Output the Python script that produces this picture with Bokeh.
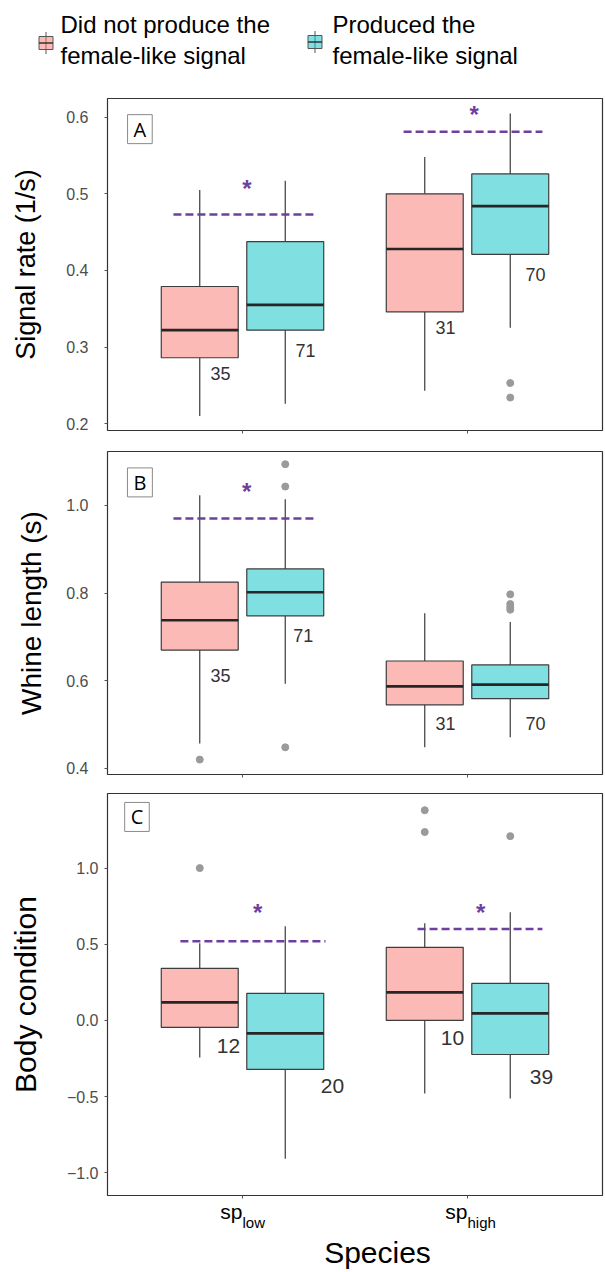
from bokeh.plotting import figure
from bokeh.layouts import column
from bokeh.models import Range1d, FixedTicker, Label
from bokeh.core.properties import value
from bokeh.embed import file_html
from bokeh.resources import INLINE

# ---------------- data ----------------
species = ["sp_low", "sp_high"]
species_main = ["sp", "sp"]
species_sub = ["low", "high"]
species_pos = [1, 2]
legend_no = ["Did not produce the", "female-like signal"]
legend_yes = ["Produced the", "female-like signal"]

# per species: [lower whisker, Q1, median, Q3, upper whisker]
rate_no = [[0.210, 0.286, 0.322, 0.379, 0.505], [0.243, 0.346, 0.428, 0.500, 0.548]]
rate_yes = [[0.226, 0.322, 0.355, 0.4375, 0.517], [0.325, 0.421, 0.484, 0.526, 0.605]]
rate_out_no = [[], []]
rate_out_yes = [[], [0.253, 0.234]]
rate_n_no = [35, 31]
rate_n_yes = [71, 70]
rate_sig = [0.473, 0.581]

whine_no = [[0.457, 0.670, 0.738, 0.825, 1.023], [0.448, 0.545, 0.587, 0.645, 0.754]]
whine_yes = [[0.593, 0.748, 0.802, 0.855, 1.014], [0.471, 0.559, 0.591, 0.636, 0.734]]
whine_out_no = [[0.42], []]
whine_out_yes = [[1.094, 1.043, 0.448], [0.797, 0.775, 0.768, 0.762]]
whine_n_no = [35, 31]
whine_n_yes = [71, 70]
whine_sig = [0.970, None]

body_no = [[-0.243, -0.046, 0.118, 0.342, 0.507], [-0.48, 0.0, 0.184, 0.48, 0.638]]
body_yes = [[-0.908, -0.322, -0.085, 0.178, 0.618], [-0.513, -0.224, 0.046, 0.243, 0.71]]
body_out_no = [[1.0], [1.38, 1.237]]
body_out_yes = [[], [1.21]]
body_n_no = [12, 10]
body_n_yes = [20, 39]
body_sig = [0.52, 0.60]

# ---------------- style / layout ----------------
PINK = "#F8766D"
CYAN = "#00BFC4"
PURPLE = "#6F3FA0"
FONT = "Liberation Sans"
DODGE = 0.19
BOX_W = 0.342
W = 605
LEFT = 107
RIGHT = 3

panels = [
    dict(label="A", ylabel="Signal rate (1/s)", yr=(0.191, 0.6245), ticks=[0.2, 0.3, 0.4, 0.5, 0.6],
         no=rate_no, yes=rate_yes, out_no=rate_out_no, out_yes=rate_out_yes,
         n_no=rate_n_no, n_yes=rate_n_yes, sig=rate_sig,
         n_pos_no=[(0.902, 0.265), (1.902, 0.325)], n_pos_yes=[(1.28, 0.295), (2.302, 0.395)],
         sig_x=[(0.693, 1.316), (1.716, 2.333)], star=[(1.02, 0.507), (2.03, 0.604)],
         tag=(0.544, 0.5845), top=8, bottom=12, frame=332, lab_fs="27px", n_fs="18px",
         tick_stand=16, lab_stand=22),
    dict(label="B", ylabel="Whine length (s)", yr=(0.386, 1.123), ticks=[0.4, 0.6, 0.8, 1.0],
         no=whine_no, yes=whine_yes, out_no=whine_out_no, out_yes=whine_out_yes,
         n_no=whine_n_no, n_yes=whine_n_yes, sig=whine_sig,
         n_pos_no=[(0.902, 0.611), (1.902, 0.503)], n_pos_yes=[(1.27, 0.703), (2.302, 0.503)],
         sig_x=[(0.693, 1.316), None], star=[(1.018, 1.032), None],
         tag=(0.544, 1.0525), top=9, bottom=12, frame=323, lab_fs="28px", n_fs="18px",
         tick_stand=16, lab_stand=16),
    dict(label="C", ylabel="Body condition", yr=(-1.15, 1.49), ticks=[-1.0, -0.5, 0.0, 0.5, 1.0],
         no=body_no, yes=body_yes, out_no=body_out_no, out_yes=body_out_yes,
         n_no=body_n_no, n_yes=body_n_yes, sig=body_sig,
         n_pos_no=[(0.938, -0.171), (1.933, -0.118)], n_pos_yes=[(1.40, -0.434), (2.329, -0.375)],
         sig_x=[(0.724, 1.369), (1.778, 2.333)], star=[(1.067, 0.71), (2.058, 0.71)],
         tag=(0.531, 1.336), top=7, bottom=4, frame=402, lab_fs="30px", n_fs="21px",
         tick_stand=6, lab_stand=22),
]


def draw_group(p, stats, outliers, color, dx):
    xs = [s + dx for s in species_pos]
    lo = [s[0] for s in stats]
    q1 = [s[1] for s in stats]
    md = [s[2] for s in stats]
    q3 = [s[3] for s in stats]
    hi = [s[4] for s in stats]
    p.segment(x0=xs, y0=q3, x1=xs, y1=hi, line_color="#3a3a3a", line_width=1.2)
    p.segment(x0=xs, y0=q1, x1=xs, y1=lo, line_color="#3a3a3a", line_width=1.2)
    p.vbar(x=xs, width=BOX_W, bottom=q1, top=q3, fill_color=color, fill_alpha=0.5,
           line_color="#3d3d3d", line_width=1.2)
    p.segment(x0=[x - BOX_W / 2 for x in xs], y0=md, x1=[x + BOX_W / 2 for x in xs], y1=md,
              line_color="#262626", line_width=2.6)
    ox, oy = [], []
    for x, outs in zip(xs, outliers):
        for o in outs:
            ox.append(x)
            oy.append(o)
    if ox:
        p.scatter(x=ox, y=oy, size=7, marker="circle", fill_color="#9a9a9a",
                  line_color="#9a9a9a")


figs = []

# ---------------- legend (data x == page x) ----------------
leg = figure(width=W, height=90, x_range=Range1d(LEFT, W - RIGHT), y_range=Range1d(90, 0),
             output_backend="svg", toolbar_location=None, x_axis_type=None, y_axis_type=None,
             min_border_left=LEFT, min_border_right=RIGHT, min_border_top=0, min_border_bottom=0)
leg.grid.visible = False
leg.outline_line_color = None
for color, kx, ky, texts, tx in [(PINK, 45.5, 42.5, legend_no, 60), (CYAN, 314.5, 41.5, legend_yes, 332)]:
    leg.segment(x0=[kx], y0=[ky - 11], x1=[kx], y1=[ky + 11], line_color="#555555", line_width=1)
    leg.rect(x=[kx], y=[ky], width=14, height=13, fill_color=color, fill_alpha=0.5,
             line_color="#555555", line_width=1)
    leg.segment(x0=[kx - 7], y0=[ky], x1=[kx + 7], y1=[ky], line_color="#333333", line_width=1.5)
    leg.text(x=[tx, tx], y=[23.6, 54.6], text=texts, text_font=value(FONT), text_font_size="24px",
             text_color="black", text_align="left", text_baseline="middle")
# the legend keys lie left of the frame; let them draw outside it
for r in leg.renderers:
    r.level = "overlay"
figs.append(leg)

# ---------------- panels ----------------
for i, cfg in enumerate(panels):
    h = cfg["top"] + cfg["frame"] + cfg["bottom"]
    p = figure(width=W, height=h, x_range=Range1d(0.4, 2.6), y_range=Range1d(*cfg["yr"]),
               output_backend="svg", toolbar_location=None,
               min_border_left=LEFT, min_border_right=RIGHT,
               min_border_top=cfg["top"], min_border_bottom=cfg["bottom"])
    p.grid.visible = False
    p.outline_line_color = "#333333"
    p.outline_line_width = 1.2

    # axes
    p.xaxis.ticker = FixedTicker(ticks=species_pos)
    p.xaxis.major_label_text_font_size = "1px"
    p.xaxis.major_label_text_color = None
    p.xaxis.major_label_standoff = 0
    p.xaxis.axis_line_color = None
    p.xaxis.major_tick_in = 0
    p.xaxis.major_tick_out = 3
    p.xaxis.major_tick_line_color = "#555555"
    p.xaxis.minor_tick_line_color = None

    p.yaxis.ticker = FixedTicker(ticks=cfg["ticks"])
    p.yaxis.major_label_overrides = {t: ("%.1f" % t).replace("-", "\u2212") for t in cfg["ticks"]}
    p.yaxis.axis_line_color = None
    p.yaxis.major_tick_in = 0
    p.yaxis.major_tick_out = 3
    p.yaxis.major_tick_line_color = "#555555"
    p.yaxis.minor_tick_line_color = None
    p.yaxis.major_label_text_font = FONT
    p.yaxis.major_label_text_font_size = "16px"
    p.yaxis.major_label_text_color = "#4D4D4D"
    p.yaxis.major_label_standoff = cfg["tick_stand"]
    p.yaxis.axis_label = cfg["ylabel"]
    p.yaxis.axis_label_text_font = FONT
    p.yaxis.axis_label_text_font_size = cfg["lab_fs"]
    p.yaxis.axis_label_text_font_style = "normal"
    p.yaxis.axis_label_text_color = "black"
    p.yaxis.axis_label_standoff = cfg["lab_stand"]

    draw_group(p, cfg["no"], cfg["out_no"], PINK, -DODGE)
    draw_group(p, cfg["yes"], cfg["out_yes"], CYAN, DODGE)

    # sample sizes
    nx = [q[0] for q in cfg["n_pos_no"]] + [q[0] for q in cfg["n_pos_yes"]]
    ny = [q[1] for q in cfg["n_pos_no"]] + [q[1] for q in cfg["n_pos_yes"]]
    nt = [str(n) for n in cfg["n_no"]] + [str(n) for n in cfg["n_yes"]]
    p.text(x=nx, y=ny, text=nt, text_font=value(FONT), text_font_size=cfg["n_fs"],
           text_color="#333333", text_align="center", text_baseline="middle")

    # significance
    for sy, sx, st in zip(cfg["sig"], cfg["sig_x"], cfg["star"]):
        if sy is None:
            continue
        p.segment(x0=[sx[0]], y0=[sy], x1=[sx[1]], y1=[sy], line_color=PURPLE,
                  line_width=2.4, line_dash="8 4")
        p.text(x=[st[0]], y=[st[1]], text=["*"], text_font=value(FONT), text_font_size="24px",
               text_font_style="bold", text_color=PURPLE, text_align="center",
               text_baseline="middle")

    tag = Label(x=cfg["tag"][0], y=cfg["tag"][1], text=cfg["label"], text_font="Open Sans",
                text_font_size="20px", text_color="black", text_align="center",
                text_baseline="middle", border_line_color="#8a8a8a", border_line_width=1,
                background_fill_color="white",
                padding=dict(left=6, right=6, top=1, bottom=1))
    p.add_layout(tag)
    figs.append(p)

# ---------------- x tick labels and title ----------------
used = 90 + sum(c["top"] + c["frame"] + c["bottom"] for c in panels)
bh = 1272 - used
bot = figure(width=W, height=bh, x_range=figs[-1].x_range, y_range=Range1d(bh, 0),
             output_backend="svg", toolbar_location=None, x_axis_type=None, y_axis_type=None,
             min_border_left=LEFT, min_border_right=RIGHT, min_border_top=0, min_border_bottom=0)
bot.grid.visible = False
bot.outline_line_color = None
bot.text(x=species_pos, y=[1210.6 - used] * 2, text=species_main, text_font=value(FONT),
         text_font_size="21px", text_color="black", text_align="right", text_baseline="middle")
bot.text(x=species_pos, y=[1221.7 - used] * 2, text=species_sub, text_font=value(FONT),
         text_font_size="15px", text_color="black", text_align="left", text_baseline="middle")
bot.text(x=[1.6], y=[1251.5 - used], text=["Species"], text_font=value(FONT), text_font_size="30px",
         text_color="black", text_align="center", text_baseline="middle")
figs.append(bot)

layout = column(*figs, spacing=0)
open("out.html", "w").write(file_html(layout, INLINE))
